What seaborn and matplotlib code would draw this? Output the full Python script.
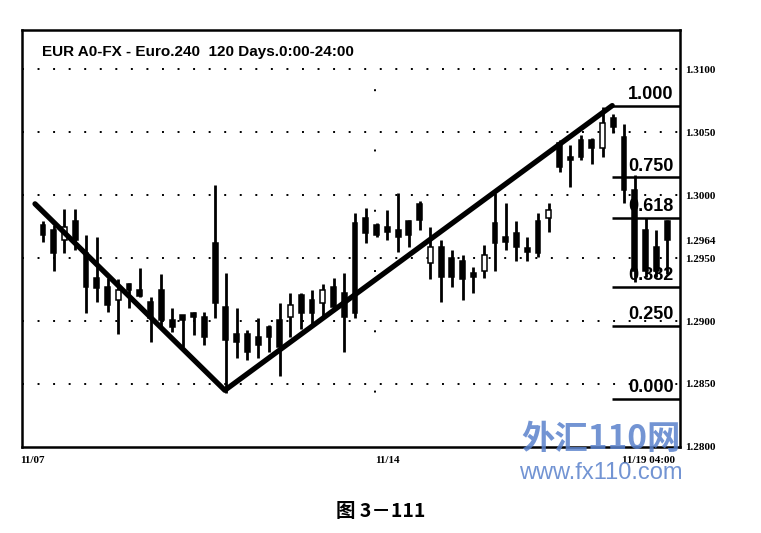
import pandas as pd
import matplotlib
matplotlib.use('Agg')
import matplotlib.pyplot as plt
import seaborn as sns

"""Candles read off the chart, one per 4h bar, left to right"""
opens = [1.2976, 1.2972, 1.2964, 1.2979, 1.2954, 1.2934, 1.2927, 1.2917, 1.2929, 1.2925,
         1.2915, 1.2925, 1.2901, 1.2905, 1.2906, 1.2903, 1.2962, 1.2911, 1.2890, 1.2890,
         1.2887, 1.2895, 1.2901, 1.2903, 1.2921, 1.2917, 1.2914, 1.2927, 1.2922, 1.2978,
         1.2982, 1.2976, 1.2975, 1.2972, 1.2979, 1.2993, 1.2946, 1.2959, 1.2950, 1.2948,
         1.2938, 1.2940, 1.2978, 1.2967, 1.2970, 1.2958, 1.2979, 1.2982, 1.3041, 1.3030,
         1.3044, 1.3044, 1.3037, 1.3061, 1.3046, 1.3004, 1.2972, 1.2959, 1.2979]
closes = [1.2968, 1.2954, 1.2975, 1.2964, 1.2927, 1.2926, 1.2913, 1.2925, 1.2925, 1.2920,
          1.2902, 1.2901, 1.2895, 1.2901, 1.2903, 1.2887, 1.2914, 1.2885, 1.2883, 1.2875,
          1.2881, 1.2887, 1.2879, 1.2913, 1.2906, 1.2906, 1.2925, 1.2911, 1.2903, 1.2906,
          1.2970, 1.2968, 1.2971, 1.2967, 1.2968, 1.2980, 1.2959, 1.2935, 1.2935, 1.2933,
          1.2935, 1.2952, 1.2962, 1.2963, 1.2959, 1.2955, 1.2954, 1.2988, 1.3022, 1.3028,
          1.3030, 1.3037, 1.3057, 1.3054, 1.3004, 1.2940, 1.2940, 1.2940, 1.2964]
highs = [1.2979, 1.2976, 1.2989, 1.2989, 1.2968, 1.2967, 1.2934, 1.2933, 1.2930, 1.2942,
         1.2919, 1.2937, 1.2910, 1.2905, 1.2907, 1.2907, 1.3008, 1.2938, 1.2910, 1.2893,
         1.2902, 1.2897, 1.2914, 1.2922, 1.2922, 1.2925, 1.2929, 1.2934, 1.2938, 1.2986,
         1.2990, 1.2978, 1.2988, 1.3002, 1.2980, 1.2995, 1.2975, 1.2964, 1.2956, 1.2952,
         1.2943, 1.2960, 1.3002, 1.2994, 1.2979, 1.2967, 1.2986, 1.2994, 1.3044, 1.3040,
         1.3048, 1.3045, 1.3070, 1.3064, 1.3056, 1.3016, 1.2982, 1.2972, 1.2980]
lows = [1.2963, 1.2940, 1.2954, 1.2956, 1.2906, 1.2915, 1.2907, 1.2890, 1.2910, 1.2919,
        1.2883, 1.2895, 1.2891, 1.2879, 1.2889, 1.2881, 1.2902, 1.2843, 1.2871, 1.2869,
        1.2871, 1.2875, 1.2856, 1.2887, 1.2894, 1.2895, 1.2903, 1.2909, 1.2875, 1.2902,
        1.2962, 1.2967, 1.2964, 1.2955, 1.2959, 1.2972, 1.2933, 1.2915, 1.2927, 1.2917,
        1.2922, 1.2934, 1.2940, 1.2956, 1.2948, 1.2948, 1.2951, 1.2971, 1.3018, 1.3006,
        1.3028, 1.3025, 1.3030, 1.3049, 1.2994, 1.2931, 1.2935, 1.2935, 1.2937]

"""Trend line (bar index, price) and fibonacci levels"""
trend_x = [-0.74, 16.9, 52.9]
trend_y = [1.2993, 1.2845, 1.3071]
fib_labels = ['1.000', '0.750', '0.618', '0.382', '0.250', '0.000']
fib_prices = [1.3071, 1.3014, 1.2982, 1.2927, 1.2896, 1.2838]
fib_start = 52.9

"""Axis labels"""
price_ticks = [1.2800, 1.2850, 1.2900, 1.2950, 1.2964, 1.3000, 1.3050, 1.3100]
grid_prices = [1.2850, 1.2900, 1.2950, 1.3000, 1.3050, 1.3100]
date_labels = ['11/07', '11/14', '11/19 04:00']
date_pos = [-2.1, 30.9, 53.8]
title = 'EUR A0-FX - Euro.240  120 Days.0:00-24:00'
caption = '图 3－111'

sns.set_style('white')
plt.rcParams['font.family'] = ['Liberation Sans', 'DejaVu Sans']
plt.rcParams['text.color'] = 'black'
plt.rcParams['ytick.color'] = 'black'
serif = ['Liberation Serif', 'DejaVu Serif']

data = pd.DataFrame({'open': opens, 'close': closes, 'high': highs, 'low': lows})
data['i'] = range(len(data))
data['up'] = data['close'] > data['open']

fig = plt.figure(figsize=(7.61, 5.33), dpi=100)
ax = fig.add_axes([0.0289, 0.1614, 0.8647, 0.7823])

# dotted price grid
for p in grid_prices:
    ax.axhline(p, color='black', lw=1.4, ls=(0, (1, 7)), zorder=1)
ax.axvline(date_pos[1], color='black', lw=1.4, ls=(3, (1, 30)), zorder=1)

# wicks then bodies
ax.vlines(data['i'], data['low'], data['high'], color='black', lw=2.0, zorder=2)
body_lo = data[['open', 'close']].min(axis=1)
body_h = (data['close'] - data['open']).abs().clip(lower=0.0002)
ax.bar(data['i'], body_h, bottom=body_lo, width=0.45,
       color=['white' if u else 'black' for u in data['up']],
       edgecolor='black', linewidth=1.1, zorder=3)

# trend line
sns.lineplot(x=trend_x, y=trend_y, sort=False, ax=ax, color='black', lw=3.8,
             zorder=4, estimator=None)

# fibonacci retracement lines
for lbl, p in zip(fib_labels, fib_prices):
    ax.plot([fib_start, 59.5], [p, p], color='black', lw=1.8, zorder=4,
            solid_capstyle='butt')
    ax.annotate(lbl, (58.6, p), xytext=(0, 2), textcoords='offset points',
                ha='right', va='bottom', fontsize=13, fontweight='bold', zorder=5)

ax.set_xlim(-1.95, 59.2)
ax.set_ylim(1.2800, 1.3131)
ax.yaxis.tick_right()
ax.set_yticks(price_ticks)
ax.set_yticklabels(['%.4f' % p for p in price_ticks], fontsize=8,
                   fontweight='bold', family=serif)
ax.tick_params(axis='y', length=0, pad=4)
ax.set_xticks([])
for lbl, pos in zip(date_labels, date_pos):
    ax.text(pos, -0.022, lbl, transform=ax.get_xaxis_transform(), ha='left',
            va='top', fontsize=8, fontweight='bold', family=serif, clip_on=False)

for s in ax.spines.values():
    s.set_visible(True)
    s.set_color('black')
    s.set_linewidth(1.8)

ax.text(0.03, 0.965, title, transform=ax.transAxes, ha='left', va='top',
        fontsize=11, fontweight='bold')

# watermark and figure caption
fig.text(0.79, 0.175, '外汇110网', ha='center', va='center', fontsize=24,
         fontweight='bold', style='italic', color='#5a82cc', alpha=0.85,
         family=['Noto Sans CJK SC', 'DejaVu Sans'])
fig.text(0.79, 0.113, 'www.fx110.com', ha='center', va='center', fontsize=17,
         color='#5a82cc', alpha=0.85, family=['Liberation Sans', 'DejaVu Sans'])
fig.text(0.5, 0.04, caption, ha='center', va='center', fontsize=14,
         fontweight='bold', family=['Noto Sans CJK SC', 'DejaVu Sans'])

plt.savefig('out.png', dpi=100)
